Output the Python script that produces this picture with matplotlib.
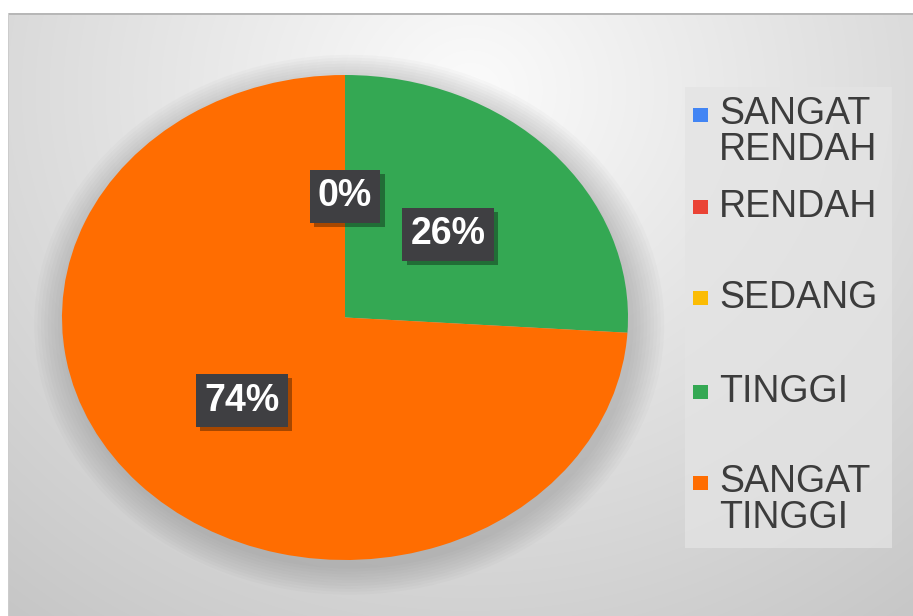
import numpy as np
import matplotlib
matplotlib.use('Agg')
import matplotlib.pyplot as plt
import matplotlib.patheffects as pe
from matplotlib.patches import Rectangle, Ellipse

plt.rcParams['font.family'] = ['Liberation Sans', 'DejaVu Sans']

# data
categories = ['SANGAT\nRENDAH', 'RENDAH', 'SEDANG', 'TINGGI', 'SANGAT\nTINGGI']
values = [0, 0, 0, 26, 74]
colors = ['#4285f4', '#ea4335', '#fbbc04', '#34a853', '#ff6d01']

W, H = 913, 616
fig = plt.figure(figsize=(W / 100, H / 100), dpi=100)

# background: white margin + soft radial grey gradient
bg = fig.add_axes([0, 0, 1, 1])
bg.axis('off')
yy, xx = np.mgrid[0:H, 0:W]
d = np.sqrt(((xx - 470) / 640.0) ** 2 + ((yy - 90) / 580.0) ** 2)
shade = 0.985 - 0.18 * np.clip(d, 0, 1.2)
img = np.dstack([shade] * 3)
img[:13, :, :] = 1.0
img[:, :8, :] = 1.0
img[13:15, 8:, :] = 0.72
img[13:, 8:9, :] = 0.8
bg.imshow(img, extent=[0, W, H, 0], aspect='auto', interpolation='bilinear')
bg.set_xlim(0, W)
bg.set_ylim(H, 0)

# pie (stretched into an ellipse like the original)
ax = fig.add_axes([62 / W, 56 / H, 566 / W, 485 / H])
ax.patch.set_alpha(0)

# soft shadow under the pie
for k in range(10):
    grow = 0.005 + k * 0.012
    ax.add_patch(Ellipse((0.015, -0.03), 2 * (1 + grow), 2 * (1 + grow),
                         facecolor='#707070', edgecolor='none',
                         alpha=0.035, clip_on=False, zorder=0))

wedges, texts, autotexts = ax.pie(
    values, colors=colors, startangle=90, counterclock=False, radius=1,
    autopct=lambda p: f'{p:.0f}%', pctdistance=0.5,
    wedgeprops=dict(linewidth=0),
    textprops=dict(color='white', fontsize=27, fontweight='bold'))
ax.set_aspect('auto')
ax.set_xlim(-1, 1)
ax.set_ylim(-1, 1)

seen = set()
for t in autotexts:
    t.set_zorder(5)
    if t.get_text() in seen:
        t.set_visible(False)
        continue
    seen.add(t.get_text())
    t.set_bbox(dict(boxstyle='square,pad=0.22', facecolor='#3f3f42', edgecolor='none'))
    t.get_bbox_patch().set_path_effects(
        [pe.SimplePatchShadow(offset=(3, -3), shadow_rgbFace='black', alpha=0.35),
         pe.Normal()])

# legend drawn by hand to follow the uneven spacing of the original
fig.patches.append(Rectangle((685 / W, 1 - 548 / H), 207 / W, 461 / H,
                             transform=fig.transFigure, facecolor='#e4e4e4',
                             edgecolor='none', alpha=0.75, zorder=1))
legend_y = [132, 207, 298, 392, 500]
for name, col, y in zip(categories, colors, legend_y):
    two = '\n' in name
    sq_y = y - 17 if two else y
    fig.patches.append(Rectangle((693 / W, 1 - (sq_y + 7) / H), 15 / W, 14 / H,
                                 transform=fig.transFigure, facecolor=col,
                                 edgecolor='none', zorder=2))
    fig.text(719 / W, 1 - y / H, name, fontsize=27, color='#3c3c3c',
             va='center', ha='left', linespacing=1.0, zorder=3)

fig.savefig('out.png', dpi=100)
